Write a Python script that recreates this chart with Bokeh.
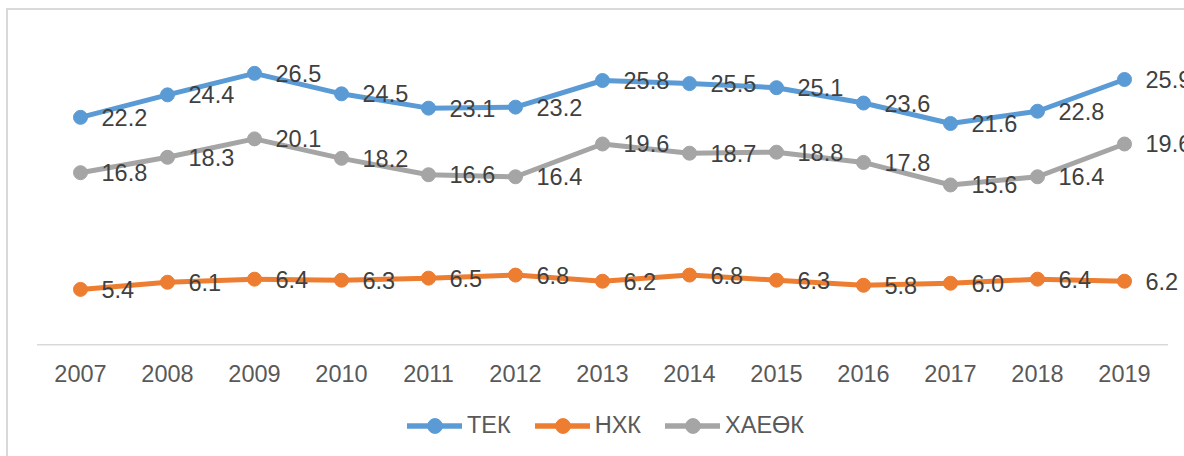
from bokeh.plotting import figure
from bokeh.models import Range1d, Legend, LegendItem, ColumnDataSource, FixedTicker
from bokeh.layouts import column
from bokeh.core.properties import value
from bokeh.embed import file_html
from bokeh.resources import INLINE

years = ["2007", "2008", "2009", "2010", "2011", "2012", "2013",
         "2014", "2015", "2016", "2017", "2018", "2019"]
tek = [22.2, 24.4, 26.5, 24.5, 23.1, 23.2, 25.8, 25.5, 25.1, 23.6, 21.6, 22.8, 25.9]
nxk = [5.4, 6.1, 6.4, 6.3, 6.5, 6.8, 6.2, 6.8, 6.3, 5.8, 6.0, 6.4, 6.2]
xaeok = [16.8, 18.3, 20.1, 18.2, 16.6, 16.4, 19.6, 18.7, 18.8, 17.8, 15.6, 16.4, 19.6]
series_names = ["ТЕК", "НХК", "ХАЕӨК"]
colors = ["#5B9BD5", "#ED7D31", "#A5A5A5"]

FONT = "Liberation Sans"
idx = list(range(len(years)))

# main chart
PX_PER_X = 87.0
PX_PER_Y = 10.24
W, H = 1176, 386
BL, BR, BT, BB = 28, 0, 27, 50
frame_w = W - BL - BR
frame_h = H - BT - BB
x0 = -(80 - 36) / PX_PER_X
y0 = -(frame_h - 30 * PX_PER_Y) / PX_PER_Y

p = figure(x_range=Range1d(x0, x0 + frame_w / PX_PER_X), y_range=Range1d(y0, 30),
           width=W, height=H, output_backend="svg", toolbar_location=None,
           min_border_left=BL, min_border_right=BR, min_border_top=BT, min_border_bottom=BB)
p.outline_line_color = None
p.xgrid.visible = False
p.ygrid.visible = False
p.yaxis.visible = False
p.xaxis.ticker = FixedTicker(ticks=idx)
p.xaxis.major_label_overrides = {i: y for i, y in zip(idx, years)}
p.xaxis.axis_line_color = None
p.xaxis.major_tick_line_color = None
p.xaxis.minor_tick_line_color = None
p.xaxis.major_label_standoff = 12
p.xaxis.major_label_text_font = FONT
p.xaxis.major_label_text_font_size = "23.5px"
p.xaxis.major_label_text_color = "#595959"

# category axis baseline (spans category bins only)
p.segment(x0=[idx[0] - 0.5], y0=[0], x1=[idx[-1] + 0.5], y1=[0],
          line_color="#d9d9d9", line_width=1.5)

sources = []
for name, vals, c in zip(series_names, [tek, nxk, xaeok], colors):
    src = ColumnDataSource(dict(x=idx, y=vals, t=[f"{v:.1f}" for v in vals]))
    sources.append(src)
    p.line("x", "y", source=src, line_color=c, line_width=5, line_join="round", line_cap="round")
    p.scatter("x", "y", source=src, size=14, fill_color=c, line_color=c, marker="circle")

for src in sources:
    p.text("x", "y", text="t", source=src, x_offset=21, y_offset=0,
           text_align="left", text_baseline="middle",
           text_font=value(FONT), text_font_size="23.5px", text_color="#404040")

# legend strip
lf = figure(width=W, height=60, x_range=Range1d(1000, 1001), y_range=Range1d(1000, 1001),
            output_backend="svg", toolbar_location=None,
            min_border_left=0, min_border_right=0, min_border_top=0, min_border_bottom=0)
lf.outline_line_color = None
lf.axis.visible = False
lf.grid.visible = False
items = []
for name, vals, c in zip(series_names, [tek, nxk, xaeok], colors):
    lr = lf.line(idx, vals, line_color=c, line_width=5.5, line_cap="round")
    sr = lf.scatter(idx, vals, size=14, fill_color=c, line_color=c, marker="circle")
    items.append(LegendItem(label=name, renderers=[lr, sr]))
legend = Legend(items=items, orientation="horizontal", location=(371, 12),
                glyph_width=55, glyph_height=37, label_standoff=5, spacing=24,
                padding=0, margin=0, border_line_color=None, background_fill_alpha=0,
                label_text_font=FONT, label_text_font_size="23.5px", label_text_color="#595959")
lf.add_layout(legend)

layout = column(p, lf, spacing=0,
                styles={"margin-left": "6px", "margin-top": "8px",
                        "border-left": "2px solid #d9d9d9", "border-top": "2px solid #d9d9d9"})

open("out.html", "w").write(file_html(layout, INLINE))
